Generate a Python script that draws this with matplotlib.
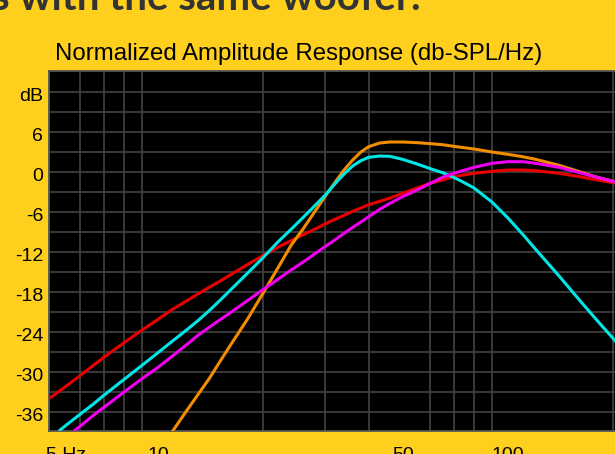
import matplotlib
matplotlib.use('Agg')
import matplotlib.pyplot as plt
import matplotlib.transforms as mtransforms
from matplotlib.ticker import FixedLocator, NullFormatter

header = "s with the same woofer."
title = "Normalized Amplitude Response (db-SPL/Hz)"

# frequency (Hz) / level (dB)
red_hz = [4.88, 5.5, 6, 6.5, 7, 8, 9, 10, 11, 12, 13, 14, 15, 16, 18, 20, 22, 24, 26, 28, 30, 32, 34,
          36, 38, 40, 43, 46, 50, 55, 60, 65, 70, 80, 90, 100, 110, 120, 140, 160, 180, 200, 240]
red_db = [-34.0, -32.0, -30.5, -29.1, -27.8, -25.6, -23.7, -22.1, -20.6, -19.4, -18.3, -17.3, -16.4,
          -15.5, -13.9, -12.5, -11.3, -10.3, -9.4, -8.6, -7.8, -7.1, -6.5, -5.9, -5.4, -4.9, -4.4,
          -3.9, -3.2, -2.4, -1.7, -1.2, -0.7, -0.2, 0.1, 0.3, 0.3, 0.2, -0.2, -0.7, -1.2, -1.6, -2.4]

orange_hz = [11, 12, 13, 14, 15, 16, 18, 20, 22, 24, 26, 28, 30, 32, 34, 36, 38, 40, 43, 46, 50, 55,
             60, 65, 70, 80, 90, 100, 110, 120, 140, 160, 180, 200, 240]
orange_db = [-38.9, -36.0, -33.4, -31.0, -28.5, -26.2, -22.1, -18.1, -14.4, -11.0, -8.5, -6.0, -3.7,
             -1.6, 0.3, 1.8, 3.0, 3.8, 4.35, 4.5, 4.5, 4.4, 4.25, 4.1, 3.85, 3.45, 3.0, 2.65, 2.3, 1.9,
             1.0, 0.05, -0.8, -1.4, -2.6]

cyan_hz = [5.25, 5.5, 6, 6.5, 7, 8, 9, 10, 11, 12, 13, 14, 15, 16, 18, 20, 22, 24, 26, 28, 30, 32, 34,
           36, 38, 40, 43, 46, 50, 55, 60, 65, 70, 75, 80, 90, 100, 110, 120, 140, 160, 180, 200, 240]
cyan_db = [-38.7, -37.85, -36.3, -34.9, -33.5, -31.1, -29.0, -27.1, -25.35, -23.8, -22.3, -20.8,
           -19.3, -17.85, -15.2, -12.8, -10.5, -8.6, -6.8, -5.1, -3.5, -1.8, -0.3, 0.9, 1.7, 2.2,
           2.4, 2.35, 1.9, 1.2, 0.5, -0.1, -0.8, -1.6, -2.4, -4.5, -6.9, -9.3, -11.6, -15.6, -19.2,
           -22.3, -25.0, -29.8]

magenta_hz = [5.8, 6, 6.5, 7, 8, 9, 10, 11, 12, 13, 14, 15, 16, 18, 20, 22, 24, 26, 28, 30, 32, 34,
              36, 38, 40, 43, 46, 50, 55, 60, 65, 70, 80, 90, 100, 110, 120, 140, 160, 180, 200, 240]
magenta_db = [-38.7, -38.1, -36.6, -35.3, -33.0, -31.0, -29.3, -27.6, -26.0, -24.5, -23.3, -22.2,
              -21.2, -19.3, -17.6, -16.1, -14.7, -13.5, -12.3, -11.2, -10.2, -9.2, -8.3, -7.5, -6.7,
              -5.6, -4.7, -3.7, -2.7, -1.7, -0.8, -0.2, 0.7, 1.3, 1.55, 1.55, 1.3, 0.7, -0.1, -0.8,
              -1.4, -2.6]

grid_hz = [6, 7, 8, 9, 10, 20, 30, 40, 50, 60, 70, 80, 90, 100, 200]
x_tick_hz = [10, 50, 100]
x_tick_text = ["10", "50", "100"]
first_x_text = "5 Hz"
y_ticks = [-36, -30, -24, -18, -12, -6, 0, 6, 12]
y_tick_text = ["-36", "-30", "-24", "-18", "-12", "-6", "0", "6", "dB"]
y_minor = [-33, -27, -21, -15, -9, -3, 3, 9]

W, H = 615, 454
BG = '#FED01D'


def main():
    fig = plt.figure(figsize=(W / 100, H / 100), dpi=100)
    fig.patch.set_facecolor(BG)
    ax = fig.add_axes([49 / W, 23 / H, 592 / W, 360 / H])
    ax.set_facecolor('black')
    ax.set_xscale('log')
    ax.set_xlim(4.88, 240)
    ax.set_ylim(-38.85, 15.15)

    ax.plot(red_hz, red_db, color='#E80000', lw=2.2, zorder=3)
    ax.plot(orange_hz, orange_db, color='#F28C00', lw=2.2, zorder=3)
    ax.plot(cyan_hz, cyan_db, color='#00E5E5', lw=2.2, zorder=3)
    ax.plot(magenta_hz, magenta_db, color='#F000F0', lw=2.2, zorder=3)

    ax.xaxis.set_major_locator(FixedLocator(x_tick_hz))
    ax.set_xticklabels(x_tick_text)
    ax.xaxis.set_minor_locator(FixedLocator(grid_hz))
    ax.xaxis.set_minor_formatter(NullFormatter())
    ax.set_yticks(y_ticks, labels=y_tick_text)
    ax.set_yticks(y_minor, minor=True)

    ax.grid(False)
    ax.xaxis.grid(True, which='minor', color='#3d3d3d', lw=1.3)
    ax.yaxis.grid(True, which='both', color='#3d3d3d', lw=1.3)
    ax.set_axisbelow(True)
    ax.tick_params(which='both', length=0)
    ax.tick_params(axis='x', pad=11.3, labelsize=14)
    ax.tick_params(axis='y', pad=4.1, labelsize=14)
    for s in ax.spines.values():
        s.set_color('#555555')
        s.set_linewidth(1.3)

    for lab in ax.get_xticklabels() + ax.get_yticklabels():
        lab.set_family('Liberation Sans')
    # labels sit a little under their grid line in the original
    shift = mtransforms.ScaledTranslation(0, -2.5 / 100, fig.dpi_scale_trans)
    for lab in ax.get_yticklabels():
        lab.set_transform(lab.get_transform() + shift)

    ax.text(-3 / 592, -15.7 / 360, first_x_text, transform=ax.transAxes, ha='left', va='top',
            fontsize=14, family='Liberation Sans')

    ttl = fig.text(55 / W, 1 - 60 / H, title, ha='left', va='baseline', fontsize=17,
                   family='Liberation Sans', color='black')
    hdr = fig.text(421 / W, 1 - 10 / H, header, ha='right', va='baseline', fontsize=28,
                   fontweight='bold', family='Lato', color='#333333')

    # fit the two text lines to the widths measured on the reference
    fig.canvas.draw()
    ttl.set_fontsize(17 * 487 / ttl.get_window_extent().width)
    hdr.set_fontsize(28 * 429 / hdr.get_window_extent().width)

    fig.savefig('out.png', dpi=100, facecolor=fig.get_facecolor())


if __name__ == "__main__":
    main()
